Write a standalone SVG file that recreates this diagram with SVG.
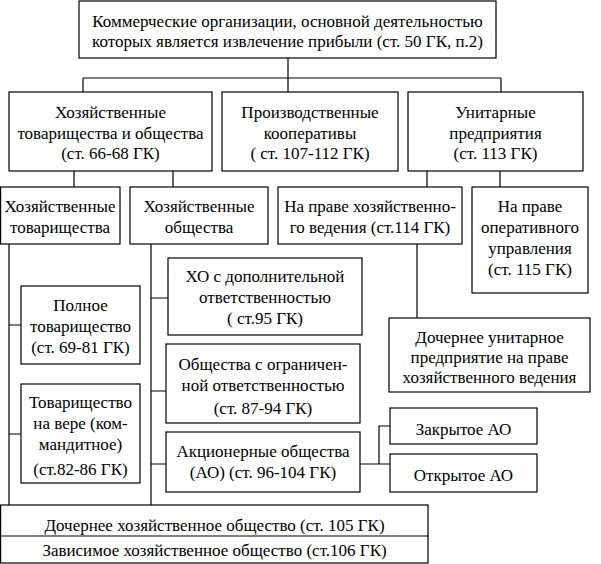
<svg xmlns="http://www.w3.org/2000/svg" width="601" height="564" viewBox="0 0 601 564">
<style>
rect.b{fill:#fff;stroke:#000;stroke-width:1.2}
text{font-family:'Liberation Serif','Times New Roman','DejaVu Serif',serif;font-size:17px;fill:#000;text-anchor:middle}
#connectors path{fill:none;stroke:#000;stroke-width:1.2}
</style>
<rect width="601" height="564" fill="#fff"/>
<g id="connectors">
<path d="M288 58V92M83 78H501M83 78V92M501 78V92"/>
<path d="M74 171V187M173 171V187M427 171V187M500 171V187"/>
<path d="M9 244V505M9 325H21M9 434H21"/>
<path d="M151 244V505M151 298H168M151 391H166M151 464H166"/>
<path d="M417 244V318"/>
<path d="M360 464H390M379 464V426H390"/>
</g>
<g id="n-top"><rect class="b" x="79" y="1" width="417" height="57"/>
<text x="287.5" y="27">Коммерческие организации, основной деятельностью</text>
<text x="287.5" y="47">которых является извлечение прибыли (ст. 50 ГК, п.2)</text></g>
<g id="n-hto"><rect class="b" x="9" y="92" width="203" height="79"/>
<text x="110.5" y="118">Хозяйственные</text><text x="110.5" y="139">товарищества и общества</text><text x="110.5" y="159">(ст. 66-68 ГК)</text></g>
<g id="n-pk"><rect class="b" x="222" y="92" width="176" height="79"/>
<text x="310" y="118">Производственные</text><text x="310" y="139">кооперативы</text><text x="310" y="159">( ст. 107-112 ГК)</text></g>
<g id="n-up"><rect class="b" x="408" y="92" width="175" height="79"/>
<text x="495.5" y="118">Унитарные</text><text x="495.5" y="139">предприятия</text><text x="495.5" y="159">(ст. 113 ГК)</text></g>
<g id="n-ht"><rect class="b" x="0.6" y="187" width="119.4" height="57"/>
<text x="60" y="212">Хозяйственные</text><text x="60" y="233">товарищества</text></g>
<g id="n-ho"><rect class="b" x="130" y="187" width="138" height="57"/>
<text x="199" y="212">Хозяйственные</text><text x="199" y="233">общества</text></g>
<g id="n-hv"><rect class="b" x="278" y="187" width="184" height="57"/>
<text x="370" y="212">На праве хозяйственно-</text><text x="370" y="233">го ведения (ст.114 ГК)</text></g>
<g id="n-ou"><rect class="b" x="472" y="187" width="116" height="106"/>
<text x="530" y="212">На праве</text><text x="530" y="233">оперативного</text><text x="530" y="254">управления</text><text x="530" y="275">(ст. 115 ГК)</text></g>
<g id="n-pt"><rect class="b" x="21" y="286" width="119" height="78"/>
<text x="80.5" y="311">Полное</text><text x="80.5" y="332">товарищество</text><text x="80.5" y="353">(ст. 69-81 ГК)</text></g>
<g id="n-tv"><rect class="b" x="21" y="384" width="119" height="99"/>
<text x="80.5" y="408">Товарищество</text><text x="80.5" y="429">на вере (ком-</text><text x="80.5" y="450">мандитное)</text><text x="80.5" y="475">(ст.82-86 ГК)</text></g>
<g id="n-xo"><rect class="b" x="168" y="258" width="194" height="77"/>
<text x="265" y="282">ХО с дополнительной</text><text x="265" y="303">ответственностью</text><text x="265" y="324">( ст.95 ГК)</text></g>
<g id="n-ooo"><rect class="b" x="166" y="344" width="194" height="79"/>
<text x="263" y="370">Общества с ограничен-</text><text x="263" y="391">ной ответственностью</text><text x="263" y="414">(ст. 87-94 ГК)</text></g>
<g id="n-ao"><rect class="b" x="166" y="432" width="194" height="60"/>
<text x="263" y="457">Акционерные общества</text><text x="263" y="478">(АО) (ст. 96-104 ГК)</text></g>
<g id="n-dup"><rect class="b" x="389" y="318" width="201" height="74"/>
<text x="489.5" y="343">Дочернее унитарное</text><text x="489.5" y="363">предприятие на праве</text><text x="489.5" y="383">хозяйственного ведения</text></g>
<g id="n-zao"><rect class="b" x="390" y="408" width="147" height="36"/>
<text x="463.5" y="435">Закрытое АО</text></g>
<g id="n-oao"><rect class="b" x="390" y="454" width="147" height="38"/>
<text x="463.5" y="481">Открытое АО</text></g>
<g id="n-bottom"><rect class="b" x="0.6" y="505" width="427.4" height="58"/>
<path d="M0.6 536H428" stroke="#000" stroke-width="1.2"/>
<text x="214.5" y="531">Дочернее хозяйственное общество (ст. 105 ГК)</text>
<text x="214.5" y="556">Зависимое хозяйственное общество (ст.106 ГК)</text></g>
</svg>
